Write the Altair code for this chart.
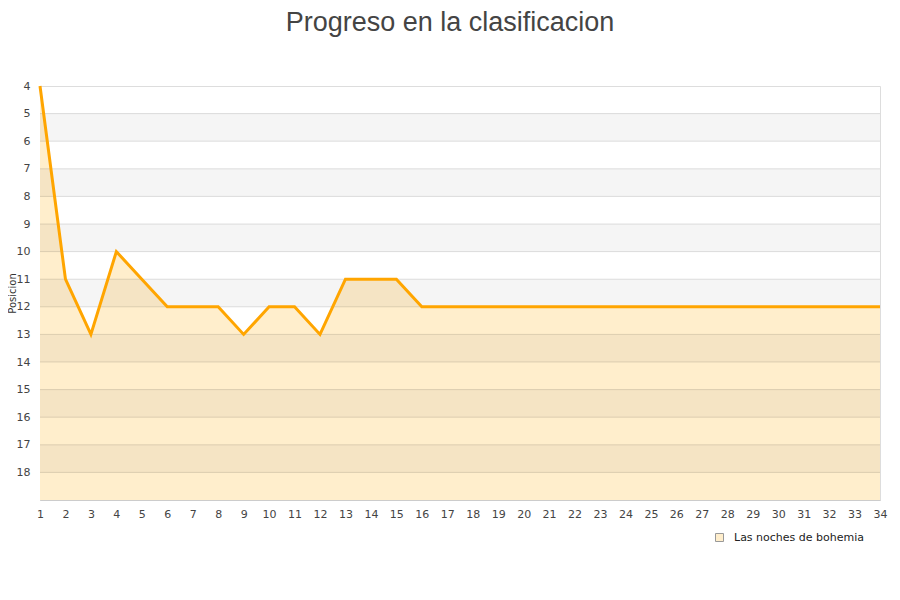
import altair as alt
import pandas as pd

rounds = list(range(1, 35))
positions = [4, 11, 13, 10, 11, 12, 12, 12, 13, 12, 12, 13, 11, 11, 11,
             12, 12, 12, 12, 12, 12, 12, 12, 12, 12, 12, 12, 12, 12, 12, 12, 12, 12, 12]
team = "Las noches de bohemia"
band_starts = [5, 7, 9, 11, 13, 15, 17]
grid_values = list(range(5, 19))
y_ticks = list(range(4, 19))

df = pd.DataFrame({"Jornada": rounds, "Posicion": positions, "Equipo": team})
bands = pd.DataFrame({"y": band_starts, "y2": [b + 1 for b in band_starts]})
grid = pd.DataFrame({"y": grid_values})

yscale = alt.Scale(domain=[4, 19], reverse=True, nice=False, zero=False)
xscale = alt.Scale(domain=[1, 34], nice=False, zero=False)

x_axis = alt.Axis(values=rounds, title=None, grid=False, tickSize=0,
                  labelPadding=8, labelFlush=False, labelOverlap=False,
                  labelFontSize=11, labelColor="#444", labelFont="DejaVu Sans",
                  domainColor="#ccc")
y_axis = alt.Axis(values=y_ticks, title="Posicion", grid=False, tickSize=0,
                  labelPadding=10, labelFontSize=11, labelColor="#444",
                  labelFont="DejaVu Sans", labelOverlap=False, labelFlush=False,
                  titleFont="DejaVu Sans", titleFontSize=10,
                  titleFontWeight="normal", titleColor="#333",
                  titleX=-28, titleY=207, titleBaseline="middle",
                  titleAlign="center", domainColor="#ccc")

area = alt.Chart(df).mark_area(interpolate="linear").encode(
    x=alt.X("Jornada:Q", scale=xscale, axis=x_axis),
    y=alt.Y("Posicion:Q", scale=yscale, axis=y_axis),
    y2=alt.datum(19),
    fill=alt.Fill("Equipo:N", scale=alt.Scale(range=["#ffeecc"]),
                  legend=alt.Legend(title=None, orient="none", legendX=674, legendY=446,
                                    symbolType="square", symbolSize=64,
                                    symbolStrokeColor="#999", symbolStrokeWidth=1,
                                    labelFont="DejaVu Sans", labelFontSize=11,
                                    labelColor="#222", labelOffset=9, padding=0)),
)

band_layer = alt.Chart(bands).mark_rect(color="black", opacity=0.04).encode(
    y=alt.Y("y:Q", scale=yscale, axis=y_axis),
    y2="y2:Q",
)

grid_layer = alt.Chart(grid).mark_rule(color="black", opacity=0.12, strokeWidth=1).encode(
    y=alt.Y("y:Q", scale=yscale, axis=y_axis),
)

line = alt.Chart(df).mark_line(color="#ffa500", strokeWidth=3).encode(
    x=alt.X("Jornada:Q", scale=xscale, axis=x_axis),
    y=alt.Y("Posicion:Q", scale=yscale, axis=y_axis),
)

chart = alt.layer(area, band_layer, grid_layer, line).properties(
    width=840,
    height=414,
    title=alt.TitleParams("Progreso en la clasificacion", font="Liberation Sans",
                          fontSize=27, fontWeight="normal", color="#444",
                          anchor="middle", frame="group", dx=-10,
                          baseline="alphabetic", offset=22),
    autosize=alt.AutoSizeParams(type="none"),
    padding={"left": 32, "top": 78, "right": 12, "bottom": 84},
).configure_view(stroke="#ddd", strokeWidth=1).configure_axis(labelOverlap=False)

chart.save("out.html", embed_options={"renderer": "svg", "actions": False})
